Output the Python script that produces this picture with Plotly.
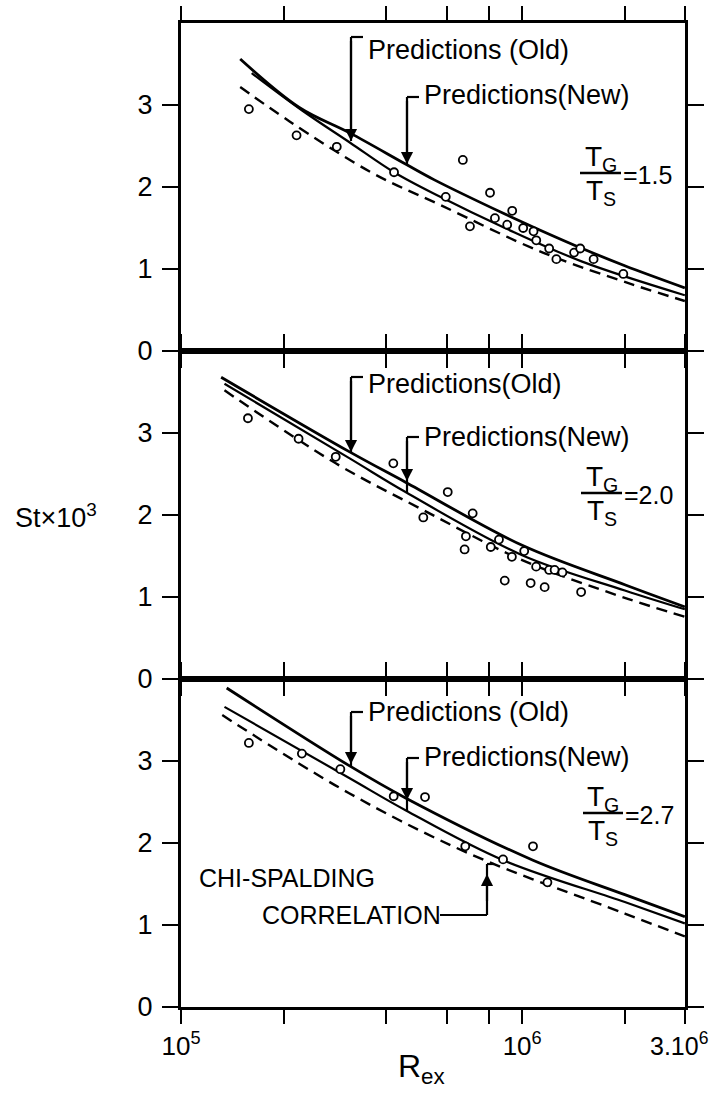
import math
import plotly.graph_objects as go
from plotly.subplots import make_subplots

# ---------------- data ----------------
# Panel TG/TS = 1.5
re_pts_15 = [1.58e5, 2.18e5, 2.86e5, 4.21e5, 5.97e5, 6.7e5, 7.03e5, 8.05e5, 8.32e5, 9.04e5,
             9.35e5, 1.007e6, 1.08e6, 1.10e6, 1.20e6, 1.26e6, 1.42e6, 1.48e6, 1.62e6, 1.98e6]
st_pts_15 = [2.95, 2.63, 2.49, 2.18, 1.88, 2.33, 1.52, 1.93, 1.62, 1.54,
             1.71, 1.50, 1.46, 1.35, 1.25, 1.12, 1.20, 1.25, 1.12, 0.94]
re_up_15 = [1.49e5, 2.22e5, 3.12e5, 4.55e5, 5.51e5, 8.9e5, 1.08e6, 1.5e6, 2.0e6, 3.0e6]
st_up_15 = [3.56, 2.97, 2.66, 2.28, 2.09, 1.67, 1.51, 1.25, 1.04, 0.77]
re_lo_15 = [1.61e5, 2.27e5, 3.13e5, 4.21e5, 5.69e5, 8.9e5, 1.5e6, 3.0e6]
st_lo_15 = [3.39, 2.93, 2.54, 2.18, 1.89, 1.50, 1.09, 0.68]
re_cs_15 = [1.49e5, 2.08e5, 3.64e5, 5.69e5, 1.15e6, 2.11e6, 3.0e6]
st_cs_15 = [3.22, 2.80, 2.17, 1.79, 1.20, 0.81, 0.61]

# Panel TG/TS = 2.0
re_pts_20 = [1.57e5, 2.21e5, 2.84e5, 4.19e5, 5.13e5, 6.05e5, 7.16e5, 6.84e5, 6.78e5, 8.09e5, 8.55e5,
             8.89e5, 9.33e5, 1.014e6, 1.059e6, 1.099e6, 1.164e6, 1.2e6, 1.245e6, 1.312e6, 1.489e6]
st_pts_20 = [3.18, 2.93, 2.71, 2.63, 1.97, 2.28, 2.02, 1.74, 1.58, 1.61, 1.70,
             1.20, 1.49, 1.56, 1.17, 1.37, 1.12, 1.33, 1.33, 1.30, 1.06]
re_up_20 = [1.31e5, 3.12e5, 4.55e5, 1.0e6, 2.0e6, 3.0e6]
st_up_20 = [3.68, 2.77, 2.40, 1.63, 1.15, 0.88]
re_lo_20 = [1.34e5, 3.12e5, 4.55e5, 1.0e6, 2.0e6, 3.0e6]
st_lo_20 = [3.60, 2.69, 2.28, 1.51, 1.08, 0.85]
re_cs_20 = [1.34e5, 2.84e5, 5.13e5, 1.0e6, 2.0e6, 3.0e6]
st_cs_20 = [3.52, 2.63, 2.06, 1.45, 0.99, 0.76]

# Panel TG/TS = 2.7
re_pts_27 = [1.58e5, 2.26e5, 2.93e5, 4.2e5, 5.19e5, 6.81e5, 8.79e5, 1.076e6, 1.186e6]
st_pts_27 = [3.22, 3.09, 2.90, 2.57, 2.56, 1.96, 1.80, 1.96, 1.52]
re_up_27 = [1.36e5, 3.12e5, 4.55e5, 1.076e6, 2.0e6, 3.0e6]
st_up_27 = [3.89, 2.94, 2.55, 1.79, 1.37, 1.10]
re_lo_27 = [1.34e5, 3.12e5, 4.55e5, 8.8e5, 2.0e6, 3.0e6]
st_lo_27 = [3.66, 2.79, 2.40, 1.79, 1.28, 1.02]
re_cs_27 = [1.32e5, 3.1e5, 7.0e5, 2.0e6, 3.0e6]
st_cs_27 = [3.56, 2.61, 1.87, 1.14, 0.86]

ratio_labels = ["=1.5", "=2.0", "=2.7"]
x_tickvals = [1e5, 2e5, 4e5, 6e5, 8e5, 1e6, 2e6, 3e6]
x_ticktext = ["10<sup>5</sup>", "", "", "", "", "10<sup>6</sup>", "", ""]
x_end_label = "3.10<sup>6</sup>"   # label of the last tick (3e6), placed by hand so it is not cut at the page edge
y_tickvals = [0, 1, 2, 3]

# ---------------- figure ----------------
W, H = 710, 1094
L, R, T, B = 181, 25, 23, 87
PW, PH = W - L - R, H - T - B
FONT = "Liberation Sans, Arial, sans-serif"

def fx(px):
    return (px - L) / PW

def fy(py):
    return (H - B - py) / PH

fig = make_subplots(rows=3, cols=1, shared_xaxes=True, vertical_spacing=0)

panels = [
    (re_pts_15, st_pts_15, re_up_15, st_up_15, re_lo_15, st_lo_15, re_cs_15, st_cs_15),
    (re_pts_20, st_pts_20, re_up_20, st_up_20, re_lo_20, st_lo_20, re_cs_20, st_cs_20),
    (re_pts_27, st_pts_27, re_up_27, st_up_27, re_lo_27, st_lo_27, re_cs_27, st_cs_27),
]
for i, (rp, sp, ru, su, rl, sl, rc, sc) in enumerate(panels, start=1):
    fig.add_trace(go.Scatter(x=rc, y=sc, mode="lines",
                             line=dict(color="black", width=2.4, dash="11px,7px", shape="spline", smoothing=1.0),
                             showlegend=False, hoverinfo="skip"), row=i, col=1)
    fig.add_trace(go.Scatter(x=rl, y=sl, mode="lines",
                             line=dict(color="black", width=2.2, shape="spline", smoothing=1.0),
                             showlegend=False, hoverinfo="skip"), row=i, col=1)
    fig.add_trace(go.Scatter(x=ru, y=su, mode="lines",
                             line=dict(color="black", width=2.8, shape="spline", smoothing=1.0),
                             showlegend=False, hoverinfo="skip"), row=i, col=1)
    fig.add_trace(go.Scatter(x=rp, y=sp, mode="markers",
                             marker=dict(symbol="circle", size=8, color="white", line=dict(color="black", width=1.8)),
                             showlegend=False, hoverinfo="skip"), row=i, col=1)

x_range = [5 - 0.0004, math.log10(3e6) + 0.0004]
for i in range(1, 4):
    fig.update_xaxes(type="log", range=x_range, showline=True, linewidth=3, linecolor="black",
                     mirror="ticks", ticks="outside", ticklen=14, tickwidth=2, tickcolor="black",
                     tickvals=x_tickvals, ticktext=x_ticktext, showticklabels=(i == 3),
                     showgrid=False, zeroline=False, automargin=False,
                     tickfont=dict(family=FONT, size=26, color="black"), row=i, col=1)
    fig.update_yaxes(range=[0, 4], showline=True, linewidth=3, linecolor="black",
                     mirror="ticks", ticks="outside", ticklen=16, tickwidth=2, tickcolor="black",
                     tickvals=y_tickvals, showgrid=False, zeroline=False, ticklabelstandoff=4,
                     automargin=False,
                     tickfont=dict(family=FONT, size=27, color="black"), row=i, col=1)

annotations = []
shapes = []

def text(px, py, s, size, anchor="left"):
    annotations.append(dict(x=fx(px), y=fy(py), xref="paper", yref="paper", text=s, showarrow=False,
                            xanchor=anchor, yanchor="middle", font=dict(family=FONT, size=size, color="black")))

def seg(x0, y0, x1, y1, w=2.2):
    shapes.append(dict(type="line", xref="paper", yref="paper", x0=fx(x0), y0=fy(y0), x1=fx(x1), y1=fy(y1),
                       line=dict(color="black", width=w)))

def arrow(px, tail_py, tip_py):
    annotations.append(dict(x=fx(px), y=fy(tip_py), xref="paper", yref="paper", text=" ", showarrow=True,
                            ax=0, ay=tail_py - tip_py, arrowhead=2, arrowsize=1.1, arrowwidth=2.2,
                            arrowcolor="black", standoff=0, startstandoff=0,
                            font=dict(family=FONT, size=4, color="black")))

# bracket labels: (corner_y, tip_y, line_end_y, text_y, text) for Old / New
old_new = [
    ((37, 141, 141, 50, "Predictions (Old)"), (97, 164, 164, 95, "Predictions(New)")),
    ((377, 452, 452, 384, "Predictions(Old)"), (437, 481, 493, 437, "Predictions(New)")),
    ((712, 764, 766, 712, "Predictions (Old)"), (758, 800, 811, 757, "Predictions(New)")),
]
for (old, new) in old_new:
    for xc, (cy, tip, lend, ty, s) in zip((351, 407), (old, new)):
        seg(xc, cy, xc + 12, cy)
        seg(xc, cy, xc, lend)
        arrow(xc, cy, tip)
        text(xc + 15, ty, s, 27)

frac = [(580, 621, 173), (581, 622, 493), (583, 623, 813)]
for (x0, x1, ly), lab in zip(frac, ratio_labels):
    seg(x0, ly, x1, ly, 2.4)
    text((x0 + x1) / 2, ly - 15, "T<sub>G</sub>", 28, "center")
    text((x0 + x1) / 2, ly + 19, "T<sub>S</sub>", 28, "center")
    text(x1, ly + 2, lab, 25)

# Chi-Spalding label
text(197, 878, "CHI-SPALDING", 25)
text(260, 915, "CORRELATION", 25)
seg(440, 915, 487, 915)
seg(487, 915, 487, 864)
seg(487, 864, 494, 864)
arrow(487, 905, 874)

# last x tick label and axis titles
text(679, 1044, x_end_label, 25, "center")
text(56, 516, "St×10<sup>3</sup>", 27, "center")
text(421, 1068, "R<sub>ex</sub>", 32, "center")

fig.update_layout(width=W, height=H, margin=dict(l=L, r=R, t=T, b=B), plot_bgcolor="white",
                  paper_bgcolor="white", annotations=annotations, shapes=shapes, showlegend=False,
                  font=dict(family=FONT, color="black"))

fig.write_html("out.html")
